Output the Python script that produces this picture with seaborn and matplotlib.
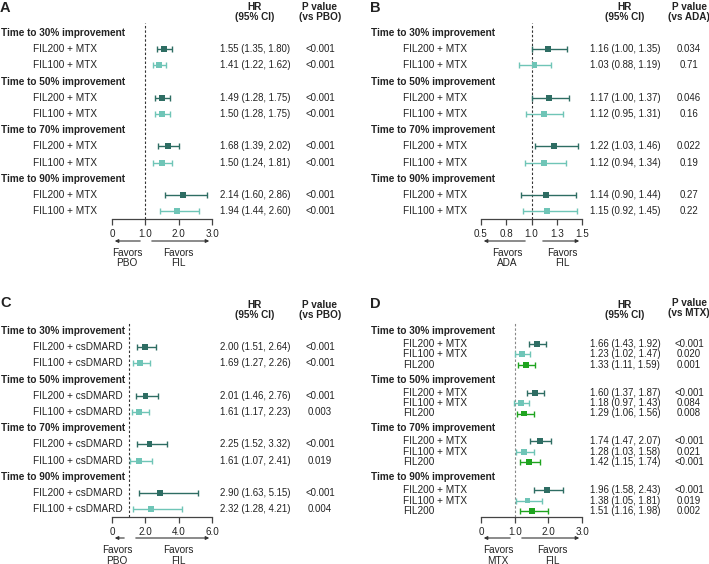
import numpy as np
import pandas as pd
import matplotlib
matplotlib.use("Agg")
import matplotlib.pyplot as plt
import matplotlib.transforms as mtransforms
from matplotlib.patches import FancyArrowPatch
import seaborn as sns

# ---------------- data ----------------
groups = ["Time to 30% improvement", "Time to 50% improvement",
          "Time to 70% improvement", "Time to 90% improvement"]

treat_A = ["FIL200 + MTX", "FIL100 + MTX"]
hr_A = [1.55, 1.41, 1.49, 1.50, 1.68, 1.50, 2.14, 1.94]
lo_A = [1.35, 1.22, 1.28, 1.28, 1.39, 1.24, 1.60, 1.44]
hi_A = [1.80, 1.62, 1.75, 1.75, 2.02, 1.81, 2.86, 2.60]
p_A = ["<0.001"] * 8

treat_B = ["FIL200 + MTX", "FIL100 + MTX"]
hr_B = [1.16, 1.03, 1.17, 1.12, 1.22, 1.12, 1.14, 1.15]
lo_B = [1.00, 0.88, 1.00, 0.95, 1.03, 0.94, 0.90, 0.92]
hi_B = [1.35, 1.19, 1.37, 1.31, 1.46, 1.34, 1.44, 1.45]
p_B = ["0.034", "0.71", "0.046", "0.16", "0.022", "0.19", "0.27", "0.22"]

treat_C = ["FIL200 + csDMARD", "FIL100 + csDMARD"]
hr_C = [2.00, 1.69, 2.01, 1.61, 2.25, 1.61, 2.90, 2.32]
lo_C = [1.51, 1.27, 1.46, 1.17, 1.52, 1.07, 1.63, 1.28]
hi_C = [2.64, 2.26, 2.76, 2.23, 3.32, 2.41, 5.15, 4.21]
p_C = ["<0.001", "<0.001", "<0.001", "0.003", "<0.001", "0.019", "<0.001", "0.004"]

treat_D = ["FIL200 + MTX", "FIL100 + MTX", "FIL200"]
hr_D = [1.66, 1.23, 1.33, 1.60, 1.18, 1.29, 1.74, 1.28, 1.42, 1.96, 1.38, 1.51]
lo_D = [1.43, 1.02, 1.11, 1.37, 0.97, 1.06, 1.47, 1.03, 1.15, 1.58, 1.05, 1.16]
hi_D = [1.92, 1.47, 1.59, 1.87, 1.43, 1.56, 2.07, 1.58, 1.74, 2.43, 1.81, 1.98]
p_D = ["<0.001", "0.020", "0.001", "<0.001", "0.084", "0.008",
       "<0.001", "0.021", "<0.001", "<0.001", "0.019", "0.002"]

ticks_A = [0, 1, 2, 3]
ticklabels_A = ["0", "1.0", "2.0", "3.0"]
ticks_B = [0.5, 0.75, 1.0, 1.25, 1.5]
ticklabels_B = ["0.5", "0.8", "1.0", "1.3", "1.5"]
ticks_C = [0, 2, 4, 6]
ticklabels_C = ["0", "2.0", "4.0", "6.0"]
ticks_D = [0, 1, 2, 3]
ticklabels_D = ["0", "1.0", "2.0", "3.0"]

colors = {"dark": "#2e6d63", "light": "#6fc5b7", "green": "#1fa41f"}

# ---------------- setup ----------------
sns.set_theme(style="ticks")
plt.rcParams['font.family'] = ['Liberation Sans', 'DejaVu Sans']
TXT = "#222222"
FS = 6.9      # numbers
FSL = 7.2     # labels

W, H = 709, 564
fig = plt.figure(figsize=(W / 100, H / 100), dpi=100)
px = mtransforms.Affine2D().scale(1 / W, -1 / H).translate(0, 1) + fig.transFigure


def t(x, y, s, **kw):
    kw.setdefault("fontsize", FS)
    kw.setdefault("va", "center")
    kw.setdefault("color", TXT)
    fig.text(x, y, s, transform=px, **kw)


def arrow(x0, x1, y):
    fig.add_artist(FancyArrowPatch((x0, y), (x1, y), transform=px,
                                   arrowstyle="-|>", mutation_scale=5,
                                   lw=0.8, color="#333333"))


def panel(letter, ox, oy, treats, hr, lo, hi, pv, pal, xlim, ticks, ticklabels,
          ax_x0, ax_x1, ax_y0, ax_y1, header_y, row_y, hr_x, p_x,
          ref, ptxt, fav_left_x, fav_right_x, fav_y, arr_y, arr_l, arr_r,
          hr_head_y, p_head_y, ref_color):
    ax = fig.add_axes([ax_x0 / W, 1 - ax_y1 / H, (ax_x1 - ax_x0) / W, (ax_y1 - ax_y0) / H])
    ax.set_ylim(ax_y1, ax_y0)
    ax.set_xlim(*xlim)
    n_t = len(treats)
    df = pd.DataFrame({
        "group": np.repeat(groups, n_t),
        "treatment": treats * len(groups),
        "hr": hr, "lo": lo, "hi": hi, "p": pv,
        "y": row_y,
    })
    ax.axvline(1.0, ls=(0, (2.2, 1.8)), lw=0.8, color=ref_color, zorder=1)
    for tr, c in zip(treats, pal):
        sub = df[df.treatment == tr]
        ax.errorbar(sub.hr, sub.y, xerr=[sub.hr - sub.lo, sub.hi - sub.hr],
                    fmt="none", ecolor=c, elinewidth=1.0, capsize=2.4,
                    capthick=1.0, zorder=2)
    sns.scatterplot(data=df, x="hr", y="y", hue="treatment", palette=dict(zip(treats, pal)),
                    marker="s", s=18, linewidth=0, legend=False, ax=ax, zorder=3)
    ax.set_xlabel("")
    ax.set_ylabel("")
    ax.set_yticks([])
    for sp in ["top", "right", "left"]:
        ax.spines[sp].set_visible(False)
    ax.spines["bottom"].set_color("#444444")
    ax.spines["bottom"].set_linewidth(0.9)
    ax.set_xticks(ticks)
    ax.set_xticklabels(ticklabels)
    ax.tick_params(axis="x", bottom=True, length=4.5, width=0.9, color="#444444",
                   labelsize=7.1, labelcolor=TXT, pad=2.5)
    ax.patch.set_alpha(0)

    # texts
    t(ox, oy + 8, letter, fontsize=10.5, fontweight="bold")
    t(hr_x, hr_head_y, "HR", ha="center", fontweight="bold", fontsize=FSL)
    t(hr_x, hr_head_y + 10, "(95% CI)", ha="center", fontweight="bold", fontsize=FSL)
    t(p_x, p_head_y, "P value", ha="center", fontweight="bold", fontsize=FSL)
    t(p_x, p_head_y + 10, ptxt, ha="center", fontweight="bold", fontsize=FSL)
    for g, gy in zip(groups, header_y):
        t(ox + 1, gy, g, fontweight="bold", fontsize=FSL)
    for i, r in df.iterrows():
        t(ox + 33, r.y, r.treatment, fontsize=FSL)
        t(hr_x, r.y, f"{r.hr:.2f} ({r.lo:.2f}, {r.hi:.2f})", ha="center")
        t(p_x, r.y, r.p, ha="center")
    t(fav_left_x, fav_y, "Favors", ha="center", fontsize=FSL)
    t(fav_left_x, fav_y + 10.5, ref, ha="center", fontsize=FSL)
    t(fav_right_x, fav_y, "Favors", ha="center", fontsize=FSL)
    t(fav_right_x, fav_y + 10.5, "FIL", ha="center", fontsize=FSL)
    arrow(arr_l[0], arr_l[1], arr_y)
    arrow(arr_r[0], arr_r[1], arr_y)


pal2 = [colors["dark"], colors["light"]]
pal3 = [colors["dark"], colors["light"], colors["green"]]

# layout rows
step = 16.2
ab_all = [33 + step * k for k in range(12)]
ab_head = [ab_all[k] for k in (0, 3, 6, 9)]
ab_rows = [ab_all[k] for k in range(12) if k % 3 != 0]
c_all = [331 + step * k for k in range(12)]
c_head = [c_all[k] for k in (0, 3, 6, 9)]
c_rows = [c_all[k] for k in range(12) if k % 3 != 0]
d_head = [331 + 48.7 * g for g in range(4)]
d_rows = [h + 13 + 10.4 * j for h in d_head for j in range(3)]

panel("A", 0, 0, treat_A, hr_A, lo_A, hi_A, p_A, pal2, (0, 3), ticks_A, ticklabels_A,
      112, 212, 23, 219, ab_head, ab_rows, 255, 320,
      "PBO", "(vs PBO)", 127, 178, 253, 241, (143, 112), (149, 212), 7, 7, "#333333")
panel("B", 370, 0, treat_B, hr_B, lo_B, hi_B, p_B, pal2, (0.5, 1.5), ticks_B, ticklabels_B,
      481, 582, 23, 219, ab_head, ab_rows, 625, 689,
      "ADA", "(vs ADA)", 507, 562, 253, 241, (528, 481), (540, 582), 7, 7, "#333333")
panel("C", 0, 295, treat_C, hr_C, lo_C, hi_C, p_C, pal2, (0, 6), ticks_C, ticklabels_C,
      112, 212, 322, 517, c_head, c_rows, 255, 320,
      "PBO", "(vs PBO)", 117, 178, 550, 538, (127, 112), (133, 212), 305, 305, "#333333")
panel("D", 370, 296, treat_D, hr_D, lo_D, hi_D, p_D, pal3, (0, 3), ticks_D, ticklabels_D,
      481, 582, 322, 517, d_head, d_rows, 625, 689,
      "MTX", "(vs MTX)", 498, 552, 550, 538, (513, 481), (519, 582), 305, 303, "#888888")

fig.savefig("out.png", dpi=100)
